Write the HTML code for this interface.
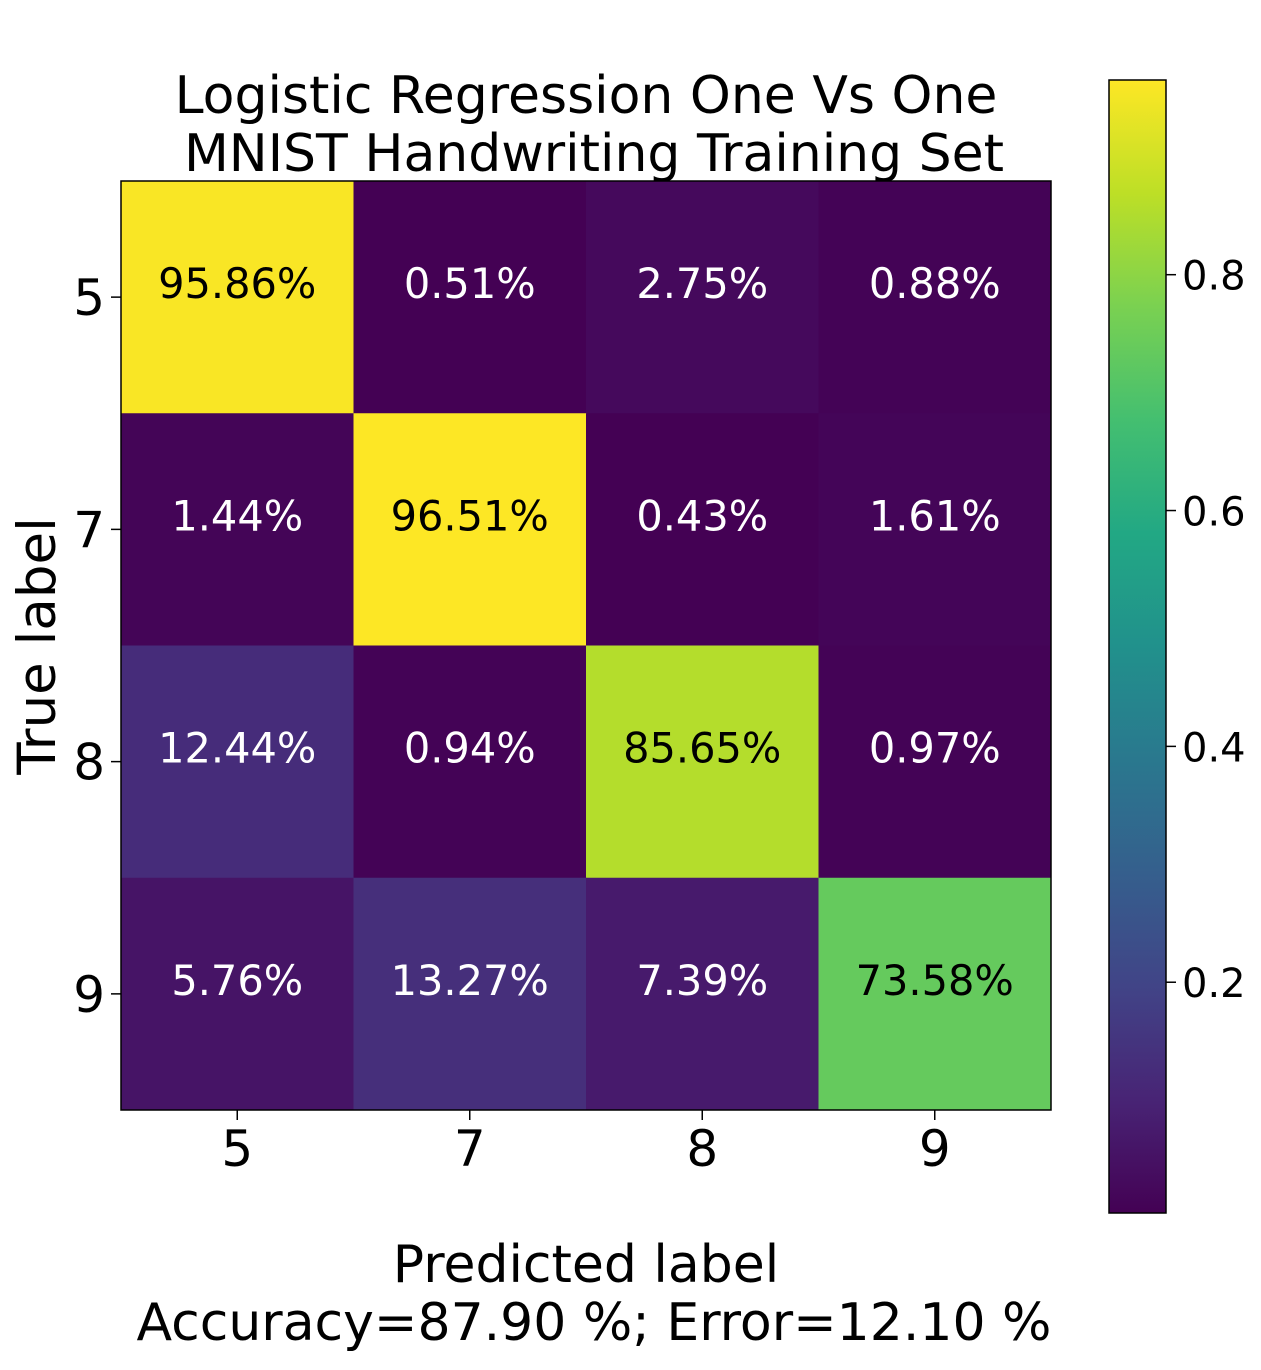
<!DOCTYPE html>
<html><head><meta charset="utf-8"><style>
body{margin:0;background:#fff;}
svg text{font-family:"DejaVu Sans","Liberation Sans",sans-serif;}
</style></head><body>
<svg id="chart" width="1261" height="1365" viewBox="0 0 1261 1365" xmlns="http://www.w3.org/2000/svg">
<text x="586" y="113" font-size="52" text-anchor="middle">Logistic Regression One Vs One</text>
<text x="594" y="171" font-size="52" text-anchor="middle">MNIST Handwriting Training Set</text>
<g id="cells"></g>
<rect x="121" y="181" width="930" height="929" fill="none" stroke="#000" stroke-width="1.5"/>
<g id="axes"></g>
<text x="586" y="1282" font-size="52" text-anchor="middle">Predicted label</text>
<text x="594" y="1340" font-size="52" text-anchor="middle">Accuracy=87.90 %; Error=12.10 %</text>
<text x="0" y="0" font-size="53" text-anchor="middle" transform="translate(55,646) rotate(-90)">True label</text>
<defs><linearGradient id="vir" x1="0" y1="1" x2="0" y2="0"></linearGradient></defs>
<rect x="1109" y="80" width="57" height="1133" fill="url(#vir)" stroke="#000" stroke-width="1.5"/>
<g id="cbticks"></g>
</svg>
<script>
const categories = ["5","7","8","9"];
const matrix = [
  [95.86, 0.51, 2.75, 0.88],
  [1.44, 96.51, 0.43, 1.61],
  [12.44, 0.94, 85.65, 0.97],
  [5.76, 13.27, 7.39, 73.58]
];
const cbTicks = [0.2, 0.4, 0.6, 0.8];
const vmin = 0.0043, vmax = 0.9651;

const NS = "http://www.w3.org/2000/svg";
const vir = ["#440154","#482475","#414487","#355f8d","#2a788e","#21918c","#22a884","#44bf70","#7ad151","#bddf26","#fde725"];
function hex(h){return [1,3,5].map(i=>parseInt(h.substr(i,2),16));}
function cmap(t){t=Math.max(0,Math.min(1,t));const f=t*10,i=Math.min(9,Math.floor(f)),r=f-i;const a=hex(vir[i]),b=hex(vir[i+1]);return "rgb("+a.map((v,k)=>Math.round(v+(b[k]-v)*r)).join(",")+")";}
const X0=121,Y0=181,W=930,H=929,n=categories.length,cw=W/n,ch=H/n;
const xs=i=>X0+i*cw, ys=j=>Y0+j*ch;
const cells=document.getElementById("cells"), axes=document.getElementById("axes");
function mk(tag,attrs,parent){const e=document.createElementNS(NS,tag);for(const k in attrs)e.setAttribute(k,attrs[k]);parent.appendChild(e);return e;}
matrix.forEach((row,j)=>row.forEach((v,i)=>{
  const t=(v/100-vmin)/(vmax-vmin);
  const r=mk("rect",{x:xs(i),y:ys(j),width:cw+0.5,height:ch+0.5,fill:cmap(t)},cells);
  
  
  const tx=mk("text",{x:xs(i)+cw/2,y:ys(j)+ch/2+1,"font-size":41.5,"text-anchor":"middle",fill:(v/100>0.5?"#000":"#fff")},cells);
  
  
  tx.textContent=v.toFixed(2)+"%";
}));
categories.forEach((c,i)=>{
  const cx=xs(i)+cw/2;
  mk("line",{x1:cx,y1:Y0+H,x2:cx,y2:Y0+H+10,stroke:"#000","stroke-width":1.5},axes);
  const t=mk("text",{x:cx,y:1166,"font-size":50,"text-anchor":"middle"},axes);
  
  
  t.textContent=c;
  const cy=ys(i)+ch/2;
  mk("line",{x1:X0-10,y1:cy,x2:X0,y2:cy,stroke:"#000","stroke-width":1.5},axes);
  const t2=mk("text",{x:105,y:cy+18,"font-size":50,"text-anchor":"end"},axes);
  
  
  t2.textContent=c;
});
const g=document.getElementById("vir");
vir.forEach((c,i)=>mk("stop",{offset:(i/10),"stop-color":c},g));
const CB_Y0=80,CB_H=1133;
const cby=v=>CB_Y0+CB_H*(1-(v-vmin)/(vmax-vmin));
const cbg=document.getElementById("cbticks");
cbTicks.forEach(v=>{
  const y=cby(v);
  mk("line",{x1:1166,y1:y,x2:1176,y2:y,stroke:"#000","stroke-width":1.5},cbg);
  const t=mk("text",{x:1182,y:y+15,"font-size":40},cbg);
  
  
  t.textContent=v.toFixed(1);
});
</script>
</body></html>
